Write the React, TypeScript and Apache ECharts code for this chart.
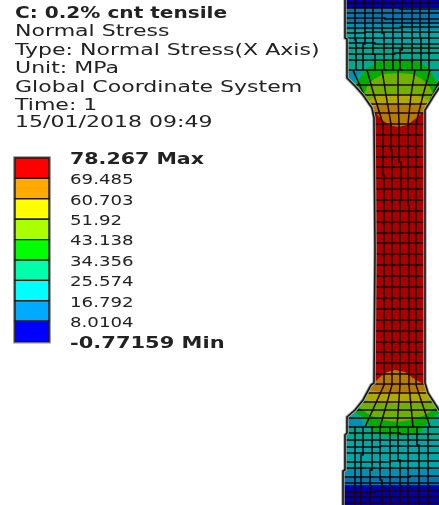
import React, { useEffect, useRef } from "react";
import * as echarts from "echarts";

type Pt = [number, number];

const WIDTH = 439;
const HEIGHT = 505;

const headerLines = [
  "Normal Stress",
  "Type: Normal Stress(X Axis)",
  "Unit: MPa",
  "Global Coordinate System",
  "Time: 1",
  "15/01/2018 09:49",
];
const headerTitle = "C: 0.2% cnt tensile";
const headerY = [31, 50, 68, 87, 105, 122];

const legendLabels = ["78.267 Max", "69.485", "60.703", "51.92", "43.138", "34.356", "25.574", "16.792", "8.0104", "-0.77159 Min"];
const legendColors = ["#ff0000", "#ffaa00", "#ffff00", "#aaff00", "#00ff00", "#00ffaa", "#00ffff", "#00aaff", "#0000ff"];

const outline: Pt[] = [
  [345, -2], [345, 38], [347, 39], [347, 78], [355, 86], [363, 95], [372, 108], [374, 118],
  [375, 250], [374, 383], [371, 385], [363, 400], [355, 410], [347, 417], [347, 433], [345, 435],
  [345, 470], [343, 471], [343, 507], [455, 507], [455, 425], [439, 410], [428, 393], [425, 383],
  [425, 118], [425, 110], [433, 97], [439, 88], [455, 70], [455, -2],
];

const blue = "#0000a8", sky = "#0078b0", sky2 = "#0090b0", cyan = "#00a8a8", teal = "#00a890";
const green = "#00ae00", lime = "#70b000", yellow = "#aeaa00", orange = "#b47c00", red = "#ac0000";

const regionColors = [
  blue, sky, sky2, cyan, teal, teal, cyan, sky2, sky, blue,
  sky2, sky2, green, green, lime, lime, yellow, yellow, red, orange, orange,
];
const regions: Pt[][] = [
  [[330, 0], [460, 0], [460, 8], [330, 8]],
  [[330, 8], [460, 8], [460, 23], [330, 23]],
  [[330, 23], [460, 23], [460, 30], [330, 30]],
  [[330, 30], [460, 30], [460, 45], [330, 45]],
  [[330, 45], [460, 45], [460, 110], [330, 110]],
  [[330, 380], [460, 380], [460, 440], [330, 440]],
  [[330, 440], [460, 440], [460, 468], [330, 468]],
  [[330, 468], [460, 468], [460, 476], [330, 476]],
  [[330, 476], [460, 476], [460, 485], [330, 485]],
  [[330, 485], [460, 485], [460, 507], [330, 507]],
  [[340, 71], [362, 71], [355, 79], [352, 86], [340, 86]],
  [[340, 417], [360, 417], [365, 428], [340, 428]],
  [[355, 86], [360, 78], [365, 70], [377, 62], [398, 59], [420, 62], [430, 70], [435, 80], [442, 88], [442, 110], [355, 110]],
  [[350, 410], [365, 418], [373, 432], [385, 435], [397, 436], [410, 435], [420, 432], [430, 420], [445, 408], [445, 380], [350, 380]],
  [[364, 96], [367, 86], [374, 79], [384, 74], [398, 73], [412, 74], [422, 79], [429, 86], [434, 94], [434, 112], [364, 112]],
  [[358, 406], [362, 410], [370, 415], [382, 420], [397, 422], [412, 420], [425, 415], [434, 409], [440, 403], [440, 380], [358, 380]],
  [[367, 103], [371, 99], [378, 96], [398, 94], [418, 96], [426, 99], [430, 103], [430, 112], [367, 112]],
  [[362, 398], [365, 400], [372, 402], [397, 404], [420, 402], [430, 400], [434, 396], [434, 380], [362, 380]],
  [[360, 107], [440, 107], [440, 386], [360, 386]],
  [[370, 107], [385, 104], [398, 104], [412, 104], [428, 107], [423, 112], [415, 119], [407, 125], [398, 127], [389, 125], [381, 119], [375, 112]],
  [[395, 370], [387, 372], [380, 377], [372, 385], [368, 390], [382, 392], [397, 393], [415, 392], [430, 390], [427, 386], [420, 382], [413, 378], [405, 372]],
];

const meshLines: Pt[][] = [
  // grip rows, top
  [[340, 3], [452, 3]], [[340, 8], [400, 8], [400, 9], [452, 9]], [[340, 13], [452, 13]], [[340, 18], [385, 18], [385, 19], [452, 19]],
  [[340, 23], [452, 23]], [[340, 28], [400, 28], [400, 27], [452, 27]], [[340, 33], [365, 33], [365, 32], [452, 32]], [[340, 38], [452, 38]],
  [[340, 43], [375, 43], [375, 44], [452, 44]], [[340, 48], [452, 48]], [[340, 54], [395, 54], [395, 53], [452, 53]], [[340, 60], [452, 60]],
  [[340, 70], [452, 70]],
  // transition rows, top
  [[350, 85], [398, 85], [440, 85]], [[358, 95], [398, 95], [435, 95]],
  [[365, 104], [398, 104], [435, 104]], [[370, 113], [430, 113]], [[370, 124], [430, 124]],
  // neck rows
  [[370, 135], [430, 135]], [[370, 146], [430, 146]], [[370, 157], [430, 157]], [[370, 167], [430, 167]], [[370, 178], [430, 178]],
  [[370, 189], [430, 189]], [[370, 200], [430, 200]], [[370, 211], [430, 211]], [[370, 222], [430, 222]], [[370, 233], [430, 233]],
  [[370, 243], [430, 243]], [[370, 254], [430, 254]], [[370, 265], [430, 265]], [[370, 276], [430, 276]], [[370, 287], [430, 287]],
  [[370, 298], [430, 298]], [[370, 309], [430, 309]], [[370, 320], [430, 320]], [[370, 331], [430, 331]], [[370, 342], [430, 342]],
  [[370, 352], [430, 352]], [[370, 363], [430, 363]], [[370, 374], [430, 374]],
  // transition rows, bottom
  [[365, 384], [435, 384]], [[360, 393], [440, 393]], [[355, 402], [445, 402]], [[350, 410], [450, 410]], [[345, 418], [450, 418]],
  // grip rows, bottom
  [[340, 427], [452, 427]], [[340, 433], [400, 433], [400, 434], [452, 434]], [[340, 440], [452, 440]], [[340, 447], [380, 447], [380, 446], [452, 446]],
  [[340, 453], [452, 453]], [[340, 462], [390, 462], [390, 461], [452, 461]], [[340, 468], [452, 468]], [[340, 477], [410, 477], [410, 476], [452, 476]],
  [[340, 483], [452, 483]], [[340, 492], [375, 492], [375, 491], [452, 491]], [[340, 497], [452, 497]], [[340, 503], [452, 503]],
  // top grip columns
  [[355, 0], [355, 40], [356, 40], [356, 70]],
  [[365, 0], [365, 44], [363, 44], [363, 70]],
  [[373, 0], [373, 54], [375, 54], [375, 70]],
  [[382, 0], [382, 33], [384, 33], [384, 70]],
  [[393, 0], [393, 70]],
  [[402, 0], [402, 50], [400, 50], [400, 70]],
  [[412, 0], [412, 70]],
  [[420, 0], [420, 38], [421, 38], [421, 70]],
  [[429, 0], [429, 70]],
  // top fan and neck columns
  [[353, 70], [364, 95]],
  [[367, 70], [374, 95], [383, 124], [383, 175], [384, 175], [384, 385], [365, 427]],
  [[382, 70], [386, 95], [391, 124], [391, 150], [392, 150], [392, 385], [380, 427]],
  [[398, 70], [398, 95], [399, 124], [399, 162], [401, 162], [401, 200], [400, 200], [400, 385], [397, 427]],
  [[415, 70], [411, 95], [408, 124], [408, 205], [409, 205], [409, 385], [413, 427]],
  [[430, 70], [423, 95], [416, 124], [416, 385], [430, 427]],
  [[445, 70], [430, 100]],
  // bottom grip columns
  [[355, 427], [355, 505]],
  [[363, 427], [363, 455], [361, 455], [361, 505]],
  [[372, 427], [372, 470], [370, 470], [370, 505]],
  [[380, 427], [380, 480], [382, 480], [382, 505]],
  [[390, 427], [390, 505]],
  [[398, 427], [398, 460], [400, 460], [400, 505]],
  [[408, 427], [408, 505]],
  [[417, 427], [417, 445], [419, 445], [419, 505]],
  [[428, 427], [428, 505]],
];

const LEGEND_X0 = 15, LEGEND_X1 = 49, LEGEND_Y0 = 158, LEGEND_STEP = 20.4;

function px(api: any, pts: Pt[]) {
  return pts.map((p) => api.coord(p));
}

export default function App() {
  const ref = useRef<HTMLDivElement>(null);
  useEffect(() => {
    const chart = echarts.init(ref.current!, null, { renderer: "svg" });
    const boldFont = "bold 15px 'DejaVu Sans'";
    const text = (s: string, x: number, y: number, scaleX: number, f: string) => ({
      type: "text", x, y, scaleX, silent: true,
      style: { text: s, font: f, fill: "#222222", verticalAlign: "middle", align: "left" },
    });
    const option: any = {
      animation: false,
      backgroundColor: "#ffffff",
      grid: { left: 0, right: 0, top: 0, bottom: 0 },
      xAxis: { type: "value", min: 0, max: WIDTH, show: false },
      yAxis: { type: "value", min: 0, max: HEIGHT, inverse: true, show: false },
      graphic: [
        text(headerTitle, 15, 13, 1.34, boldFont),
        ...headerLines.map((s, i) => text(s, 15, headerY[i], 1.47, "15px 'DejaVu Sans'")),
        ...legendLabels.map((s, i) =>
          i === 0 || i === 9
            ? text(s, 70, LEGEND_Y0 + 1 + LEGEND_STEP * i, i === 0 ? 1.37 : 1.4, boldFont)
            : text(s, 70, LEGEND_Y0 + 1 + LEGEND_STEP * i, 1.3, "14px 'DejaVu Sans'")
        ),
      ],
      series: [
        {
          type: "custom", coordinateSystem: "cartesian2d", clip: false, silent: true,
          data: regions.map((_, i) => [i]),
          renderItem: (p: any, api: any) => ({
            type: "polygon",
            clipPath: { type: "polygon", shape: { points: px(api, outline) } },
            shape: { points: px(api, regions[p.dataIndex]) },
            style: { fill: regionColors[p.dataIndex] },
          }),
        },
        {
          type: "custom", coordinateSystem: "cartesian2d", clip: false, silent: true, z: 3,
          data: meshLines.map((_, i) => [i]),
          renderItem: (p: any, api: any) => ({
            type: "polyline",
            clipPath: { type: "polygon", shape: { points: px(api, outline) } },
            shape: { points: px(api, meshLines[p.dataIndex]) },
            style: { fill: "none", stroke: "#1c0404", lineWidth: 1.5 },
          }),
        },
        {
          type: "custom", coordinateSystem: "cartesian2d", clip: false, silent: true, z: 4,
          data: [[0], [1]],
          renderItem: (p: any, api: any) => ({
            type: "polygon",
            shape: { points: px(api, outline) },
            style: p.dataIndex === 0
              ? { fill: "none", stroke: "#a8a8a8", lineWidth: 3.4 }
              : { fill: "none", stroke: "#141414", lineWidth: 1.6 },
          }),
        },
        {
          type: "custom", coordinateSystem: "cartesian2d", clip: false, silent: true, z: 5,
          data: [0, ...legendColors.map((_, i) => i + 1)].map((i) => [i]),
          renderItem: (p: any, api: any) => {
            const i = p.dataIndex - 1;
            const n = legendColors.length;
            const a = api.coord([LEGEND_X0, LEGEND_Y0 + LEGEND_STEP * Math.max(i, 0)]);
            const b = api.coord([LEGEND_X1, LEGEND_Y0 + LEGEND_STEP * (i < 0 ? n : i + 1)]);
            return {
              type: "rect",
              shape: { x: a[0], y: a[1], width: b[0] - a[0], height: b[1] - a[1] },
              style: i < 0
                ? { fill: "none", stroke: "#8a8a8a", lineWidth: 3.6 }
                : { fill: legendColors[i], stroke: "#1a1a1a", lineWidth: 1.4 },
            };
          },
        },
      ],
    };
    chart.setOption(option);
    return () => chart.dispose();
  }, []);
  return <div ref={ref} style={{ position: "absolute", left: 0, top: 0, width: WIDTH, height: HEIGHT, filter: "blur(0.5px)" }} />;
}
